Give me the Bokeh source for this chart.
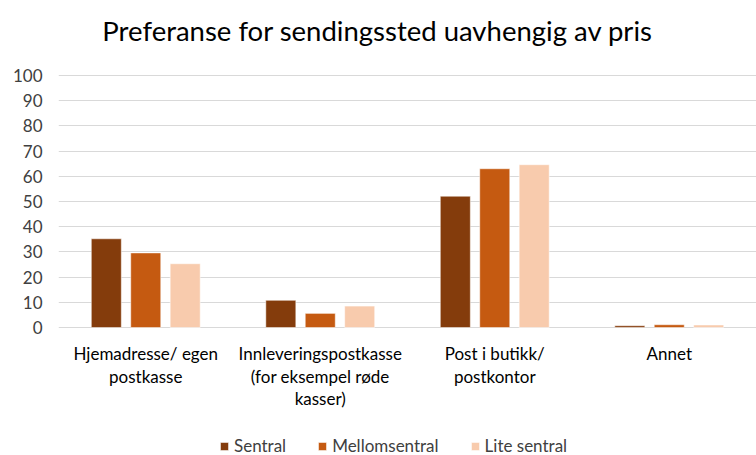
from bokeh.plotting import figure
from bokeh.models import ColumnDataSource, FactorRange, Legend, LegendItem, FixedTicker
from bokeh.transform import dodge
from bokeh.core.properties import value
from bokeh.embed import file_html
from bokeh.resources import INLINE

title_text = "Preferanse for sendingssted uavhengig av pris"
categories = ["Hjemadresse/ egen postkasse",
              "Innleveringspostkasse (for eksempel røde kasser)",
              "Post i butikk/ postkontor",
              "Annet"]
category_label_lines = [["Hjemadresse/ egen", "postkasse"],
                        ["Innleveringspostkasse", "(for eksempel røde", "kasser)"],
                        ["Post i butikk/", "postkontor"],
                        ["Annet"]]
series_names = ["Sentral", "Mellomsentral", "Lite sentral"]
sentral = [35.2, 10.8, 52.1, 0.7]
mellomsentral = [29.6, 5.6, 63.0, 1.1]
lite_sentral = [25.3, 8.5, 64.6, 1.0]
y_ticks = [0, 10, 20, 30, 40, 50, 60, 70, 80, 90, 100]
colors = ["#843C0C", "#C55A11", "#F8CBAD"]

FONT = "Lato"
PX_PER_UNIT = 2.52  # frame pixels per value unit
TOP_PX = 75          # pixels above the 100 line
BOTTOM_PX = 128      # pixels below the 0 line

source = ColumnDataSource(data=dict(cat=categories, s=sentral, m=mellomsentral, l=lite_sentral))

p = figure(x_range=FactorRange(*categories),
           y_range=(-BOTTOM_PX / PX_PER_UNIT, 100 + TOP_PX / PX_PER_UNIT),
           width=756, height=455, output_backend="svg", toolbar_location=None,
           min_border_left=58, min_border_right=0, min_border_top=0, min_border_bottom=0)

renderers = []
for col, off, c in zip(["s", "m", "l"], [-0.226, 0.0, 0.226], colors):
    r = p.vbar(x=dodge("cat", off, range=p.x_range), top=col, width=0.172, source=source,
               fill_color=c, line_color="white", line_width=0.5)
    renderers.append(r)

p.outline_line_color = None
p.background_fill_color = "white"
p.border_fill_color = "white"

p.yaxis.ticker = FixedTicker(ticks=y_ticks)
p.yaxis.axis_line_color = None
p.yaxis.major_tick_line_color = None
p.yaxis.minor_tick_line_color = None
p.yaxis.major_label_text_font = FONT
p.yaxis.major_label_text_font_size = "17px"
p.yaxis.major_label_text_color = "#404040"
p.yaxis.major_label_standoff = 10

p.xaxis.visible = False

p.xgrid.grid_line_color = None
p.ygrid.grid_line_color = "#D9D9D9"
p.ygrid.grid_line_width = 1

# chart title, centred on the whole chart (shifted left of the plot-area centre)
p.text(x=[categories[1]], y=[100 + (TOP_PX - 30) / PX_PER_UNIT], text=[title_text],
       x_offset=57.5, text_align="center", text_baseline="middle",
       text_font=value(FONT), text_font_size="27.5px", text_color="#000000")

# category labels drawn as text glyphs below the zero line
lab_x, lab_y, lab_t = [], [], []
for cat, lines in zip(categories, category_label_lines):
    for j, line in enumerate(lines):
        lab_x.append(cat)
        lab_y.append(-(26 + 22.5 * j) / PX_PER_UNIT)
        lab_t.append(line)
p.text(x=lab_x, y=lab_y, text=lab_t, text_align="center", text_baseline="middle",
       text_font=value(FONT), text_font_size="17px", text_color="#000000")

legend = Legend(items=[LegendItem(label=n, renderers=[r]) for n, r in zip(series_names, renderers)],
                orientation="horizontal", location=(161, -1),
                label_text_font=FONT, label_text_font_size="17px", label_text_color="#404040",
                glyph_width=10, glyph_height=10, spacing=31, label_standoff=5,
                border_line_color=None, background_fill_alpha=0, margin=0, padding=0)
p.add_layout(legend, "center")

open("out.html", "w").write(file_html(p, INLINE))
